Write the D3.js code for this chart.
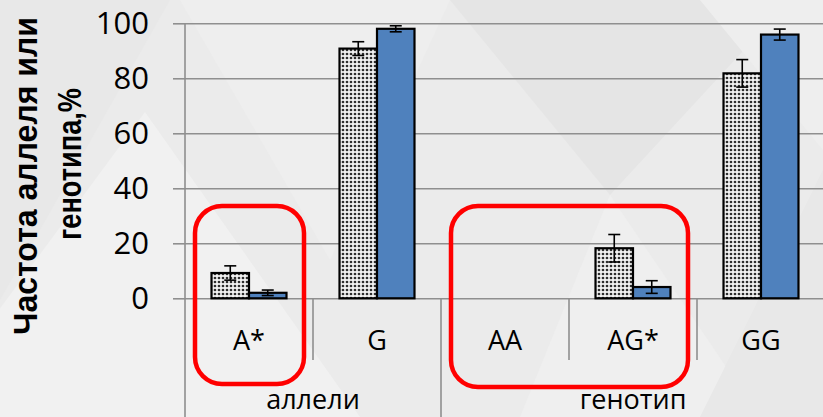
<!DOCTYPE html>
<html>
<head>
<meta charset="utf-8">
<script src="https://cdn.jsdelivr.net/npm/d3@7/dist/d3.min.js"></script>
<style>
  html, body { margin: 0; padding: 0; background: #ececec; }
  svg { display: block; }
</style>
</head>
<body>
<svg id="chart" width="823" height="417"></svg>
<script>
// Category axis (two levels) and frequencies, %
const categories = ["A*", "G", "AA", "AG*", "GG"];
const groupNames = ["аллели", "генотип"];
const groupMembers = [["A*", "G"], ["AA", "AG*", "GG"]];
const dottedValues = [9.2, 90.8, 0, 18.2, 81.8];
const dottedErrors = [2.6, 2.5, 0, 5.0, 5.0];
const blueValues = [2.0, 98.0, 0, 4.1, 95.9];
const blueErrors = [1.0, 1.1, 0, 2.3, 2.0];
const yTicks = [0, 20, 40, 60, 80, 100];
const yTitleLines = ["Частота аллеля или", "генотипа,%"];
const highlighted = [["A*"], ["AA", "AG*"]];

const W = 823, H = 417;
const plot = { left: 185, right: 825, top: 23.3, bottom: 298.3 };

const svg = d3.select("#chart");

// soft slide background facets
const bg = svg.append("g");
bg.append("rect").attr("width", W).attr("height", H).attr("fill", "#ebebeb");
const facets = [
  { pts: [[0, 0], [170, 0], [40, 230], [0, 300]], fill: "#e8e8e8" },
  { pts: [[145, 112], [-80, 417], [360, 417]], fill: "#f1f1f1" },
  { pts: [[180, 0], [450, 0], [330, 260]], fill: "#eeeeee" },
  { pts: [[450, 0], [790, 0], [610, 195]], fill: "#e5e5e5" },
  { pts: [[610, 195], [520, 417], [760, 417]], fill: "#efefef" },
  { pts: [[700, 0], [823, 0], [823, 150]], fill: "#eeeeee" },
  { pts: [[823, 170], [700, 417], [823, 417]], fill: "#e8e8e8" }
];
bg.selectAll("polygon").data(facets).join("polygon")
  .attr("points", d => d.pts.map(p => p.join(",")).join(" "))
  .attr("fill", d => d.fill);

// dotted fill pattern
const defs = svg.append("defs");
const pat = defs.append("pattern").attr("id", "dots")
  .attr("patternUnits", "userSpaceOnUse").attr("width", 4).attr("height", 4);
pat.append("rect").attr("width", 4).attr("height", 4).attr("fill", "#f2f2f2");
pat.append("circle").attr("cx", 2).attr("cy", 2).attr("r", 1.35).attr("fill", "#2e2e2e");

// scales
const x = d3.scaleBand().domain(categories).range([plot.left, plot.right]).paddingInner(0).paddingOuter(0);
const xs = d3.scaleBand().domain(["dotted", "blue"]).range([0, x.bandwidth()]).paddingInner(0).paddingOuter(0.707);
const y = d3.scaleLinear().domain([0, 100]).range([plot.bottom, plot.top]);

const gridColor = "#8f8f8f";

// gridlines across the plot
svg.append("g")
  .attr("transform", `translate(${plot.left},0)`)
  .call(d3.axisRight(y).tickValues(yTicks).tickSize(plot.right - plot.left).tickFormat(""))
  .call(g => g.select(".domain").remove())
  .call(g => g.selectAll("line").attr("stroke", gridColor).attr("stroke-width", 1.6));

// left axis with outside ticks and labels
svg.append("g")
  .attr("transform", `translate(${plot.left},0)`)
  .call(d3.axisLeft(y).tickValues(yTicks).tickSize(12).tickPadding(24))
  .call(g => g.select(".domain").remove())
  .call(g => g.selectAll("line").attr("stroke", gridColor).attr("stroke-width", 1.6))
  .call(g => g.selectAll("text")
    .attr("font-family", "'Open Sans', sans-serif")
    .attr("font-size", 31).attr("fill", "#000"));

// vertical axis line, running through the category label rows
svg.append("line")
  .attr("x1", plot.left).attr("x2", plot.left)
  .attr("y1", plot.top).attr("y2", H)
  .attr("stroke", gridColor).attr("stroke-width", 1.6);

// category separators: short between categories, full between groups
const groupStarts = new Set(groupMembers.map(m => m[0]));
const seps = categories.slice(1).map(c => ({ x: x(c), full: groupStarts.has(c) }));
svg.append("g").selectAll("line").data(seps).join("line")
  .attr("x1", d => d.x).attr("x2", d => d.x)
  .attr("y1", y(0)).attr("y2", d => d.full ? H : 360)
  .attr("stroke", gridColor).attr("stroke-width", 1.6);

// bars
const rows = categories.map((c, i) => ({
  c,
  bars: [
    { key: "dotted", v: dottedValues[i], e: dottedErrors[i] },
    { key: "blue", v: blueValues[i], e: blueErrors[i] }
  ]
}));
const fills = { dotted: "url(#dots)", blue: "#4f81bd" };

const cat = svg.append("g").selectAll("g").data(rows).join("g")
  .attr("transform", d => `translate(${x(d.c)},0)`);

cat.selectAll("rect").data(d => d.bars.filter(b => b.v > 0)).join("rect")
  .attr("x", b => xs(b.key))
  .attr("width", xs.bandwidth())
  .attr("y", b => y(b.v))
  .attr("height", b => y(0) - y(b.v))
  .attr("fill", b => fills[b.key])
  .attr("stroke", "#000").attr("stroke-width", 2.2);

// error bars
const capHalf = 6;
const eb = cat.selectAll("g.err").data(d => d.bars.filter(b => b.v > 0)).join("g").attr("class", "err")
  .attr("stroke", "#000").attr("stroke-width", 1.6);
eb.append("line")
  .attr("x1", b => xs(b.key) + xs.bandwidth() / 2).attr("x2", b => xs(b.key) + xs.bandwidth() / 2)
  .attr("y1", b => y(b.v + b.e)).attr("y2", b => y(b.v - b.e));
eb.append("line")
  .attr("x1", b => xs(b.key) + xs.bandwidth() / 2 - capHalf).attr("x2", b => xs(b.key) + xs.bandwidth() / 2 + capHalf)
  .attr("y1", b => y(b.v + b.e)).attr("y2", b => y(b.v + b.e));
eb.append("line")
  .attr("x1", b => xs(b.key) + xs.bandwidth() / 2 - capHalf).attr("x2", b => xs(b.key) + xs.bandwidth() / 2 + capHalf)
  .attr("y1", b => y(b.v - b.e)).attr("y2", b => y(b.v - b.e));

// category labels
svg.append("g").selectAll("text").data(categories).join("text")
  .attr("x", c => x(c) + x.bandwidth() / 2)
  .attr("y", 350)
  .attr("text-anchor", "middle")
  .attr("font-family", "'Open Sans', sans-serif")
  .attr("font-size", 27)
  .attr("fill", "#000")
  .text(c => c);

// group labels
svg.append("g").selectAll("text").data(groupNames).join("text")
  .attr("x", (g, i) => {
    const m = groupMembers[i];
    return (x(m[0]) + x(m[m.length - 1]) + x.bandwidth()) / 2;
  })
  .attr("y", 409)
  .attr("text-anchor", "middle")
  .attr("font-family", "'Open Sans', sans-serif")
  .attr("font-size", 27)
  .attr("fill", "#000")
  .text(g => g);

// y axis title (two lines, rotated)
const title = svg.append("g").attr("font-family", "'Liberation Sans', Arial, sans-serif")
  .attr("font-weight", "bold").attr("font-size", 33).attr("fill", "#000");
title.append("text")
  .attr("transform", "translate(37,176) rotate(-90)")
  .attr("text-anchor", "middle")
  .attr("textLength", 318).attr("lengthAdjust", "spacingAndGlyphs")
  .text(yTitleLines[0]);
title.append("text")
  .attr("transform", "translate(81,164) rotate(-90)")
  .attr("text-anchor", "middle")
  .attr("textLength", 152).attr("lengthAdjust", "spacingAndGlyphs")
  .text(yTitleLines[1]);

// red highlight frames around the marked categories
const frames = highlighted.map(m => ({
  x0: x(m[0]) + 10,
  x1: x(m[m.length - 1]) + x.bandwidth() - 9,
  y0: y(33.6)
}));
const frameBottoms = [384, 387];
svg.append("g").selectAll("rect").data(frames).join("rect")
  .attr("x", d => d.x0).attr("y", d => d.y0)
  .attr("width", d => d.x1 - d.x0)
  .attr("height", (d, i) => frameBottoms[i] - d.y0)
  .attr("rx", 27).attr("ry", 27)
  .attr("fill", "none").attr("stroke", "#ff0000").attr("stroke-width", 4.5);
</script>
</body>
</html>
